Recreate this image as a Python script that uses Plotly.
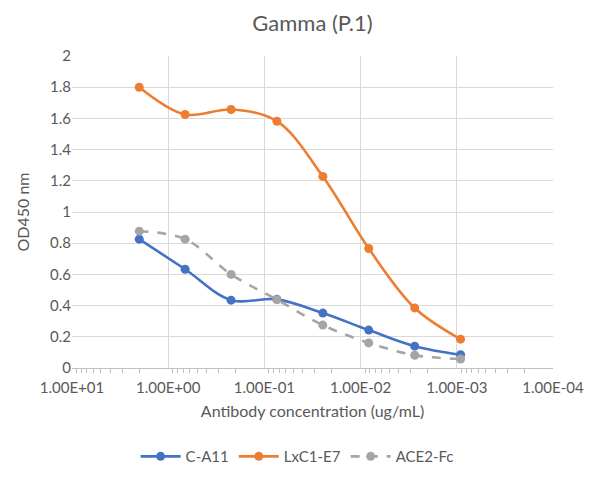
import numpy as np
import plotly.graph_objects as go

# 3-fold dilution series (ug/mL)
conc = [2, 0.667, 0.222, 0.0741, 0.0247, 0.00823, 0.00274, 0.000914]

ca11 = [0.826, 0.633, 0.435, 0.440, 0.352, 0.243, 0.140, 0.085]
lxc1_e7 = [1.80, 1.625, 1.657, 1.582, 1.228, 0.766, 0.385, 0.185]
ace2_fc = [0.877, 0.826, 0.600, 0.438, 0.275, 0.161, 0.082, 0.058]

x_ticks = [10, 1, 0.1, 0.01, 0.001, 0.0001]
x_ticktext = ["1.00E+01", "1.00E+00", "1.00E-01", "1.00E-02", "1.00E-03", "1.00E-04"]

txt = "#595959"
grid = "#d9d9d9"

fig = go.Figure()

series = [
    ("C-A11", ca11, "#4472C4", "solid"),
    ("LxC1-E7", lxc1_e7, "#ED7D31", "solid"),
    ("ACE2-Fc", ace2_fc, "#A5A5A5", "dash"),
]
for name, vals, col, dash in series:
    fig.add_trace(go.Scatter(
        x=conc, y=vals, name=name, mode="lines+markers",
        line=dict(color=col, width=2.6, dash=dash, shape="spline", smoothing=1),
        marker=dict(color=col, size=9),
    ))

# minor ticks at 2..9 of each decade
minor_vals = [m * 10.0 ** e for e in range(-4, 1) for m in range(2, 10)]

fig.update_layout(
    width=594, height=478,
    paper_bgcolor="white", plot_bgcolor="white",
    font=dict(family="Lato, Open Sans, sans-serif", size=15, color=txt),
    title=dict(text="Gamma (P.1)", x=0.5, xanchor="center", xref="paper",
               y=1 - 23 / 478, yanchor="middle", yref="container",
               font=dict(size=22, color=txt)),
    margin=dict(l=72, r=41, t=56, b=110, autoexpand=False),
    showlegend=True,
    legend=dict(orientation="h", x=0.468, xanchor="center", y=-0.284, yanchor="middle",
                font=dict(size=15, color=txt), itemwidth=40, tracegroupgap=0),
)

fig.update_xaxes(
    type="log", range=[1, -4], automargin=False,
    tickvals=x_ticks, ticktext=x_ticktext,
    tickfont=dict(size=15, color=txt), ticklabelstandoff=6,
    showgrid=True, gridcolor=grid, gridwidth=1,
    showline=True, linecolor="#bfbfbf", linewidth=1,
    ticks="", zeroline=False,
    minor=dict(tickvals=minor_vals, ticks="outside", ticklen=4, tickcolor="#bfbfbf", showgrid=False),
    title=dict(text="Antibody concentration (ug/mL)", font=dict(size=16, color=txt), standoff=10),
)
fig.update_yaxes(
    range=[0, 2], dtick=0.2, automargin=False,
    tickfont=dict(size=15, color=txt),
    showgrid=True, gridcolor=grid, gridwidth=1,
    zeroline=False, showline=False, ticks="",
    title=dict(text="OD450 nm", font=dict(size=16, color=txt), standoff=16),
)

# page body has a default 8px margin; drop it so the figure sits at the corner
fig.write_html("out.html", config={"displayModeBar": False},
               post_script="document.body.style.margin='0';")
